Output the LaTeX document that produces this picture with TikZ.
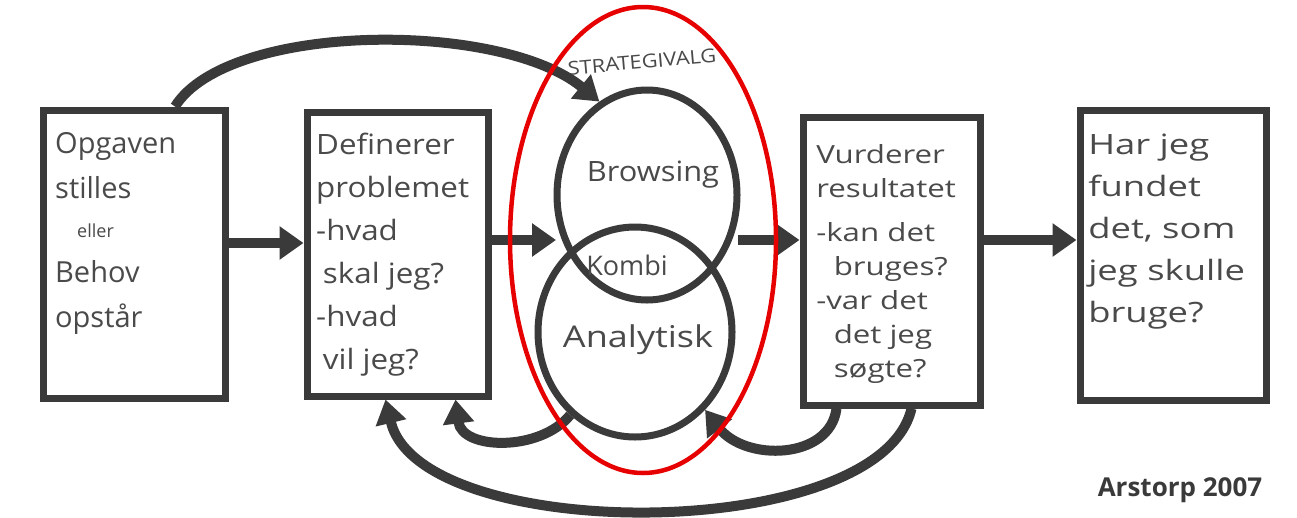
\documentclass[tikz,border=0pt]{standalone}
\usepackage{fontspec}
\setmainfont{Open Sans}
\usetikzlibrary{arrows.meta,shapes.geometric,calc}
\definecolor{ink}{HTML}{3A3A3A}
\definecolor{pen}{HTML}{4A4A4A}
\definecolor{marker}{HTML}{E60000}
\begin{document}
\begin{tikzpicture}[x=1pt,y=-1pt,
  stepbox/.style={draw=ink,line width=7pt,minimum width=#1,inner sep=0pt},
  boxtext/.style={anchor=north west,align=left,text=pen,inner sep=0pt,font=\fontsize{27}{40}\selectfont},
  ring/.style={draw=ink,line width=7pt,ellipse,inner sep=0pt},
  flow/.style={draw=ink,line width=10pt,-{Triangle[length=24pt,width=32pt]}},
  loop/.style={draw=ink,line width=10pt,-{Triangle[length=24pt,width=30pt]}},
]
\useasboundingbox (0,0) rectangle (1297,517);
\fill[white] (0,0) rectangle (1297,517);

% process boxes
\node[stepbox=182pt,minimum height=288pt] (b1) at (134,254) {};
\node[stepbox=181pt,minimum height=284pt] (b2) at (397.5,254) {};
\node[stepbox=177pt,minimum height=288pt] (b3) at (891.5,261) {};
\node[stepbox=186pt,minimum height=290pt] (b4) at (1173,255) {};

% texts inside the boxes
\node[boxtext,font=\fontsize{29}{45}\selectfont] (t1) at (55,132)
  {Opgaven\\stilles\\[-6pt]{\fontsize{18}{20}\selectfont\hspace{22pt}eller}\\Behov\\opstår};
\node[boxtext,xscale=1.12,font=\fontsize{28}{43}\selectfont] (t2) at (316,133)
  {Definerer\\problemet\\-hvad\\\hspace{6pt}skal jeg?\\-hvad\\\hspace{6pt}vil jeg?};
\node[boxtext,xscale=1.25,font=\fontsize{25}{34}\selectfont] (t3) at (816,144)
  {Vurderer\\resultatet\\[10pt]-kan det\\\hspace{14pt}bruges?\\-var det\\\hspace{14pt}det jeg\\\hspace{14pt}søgte?};
\node[boxtext,xscale=1.3,font=\fontsize{28}{42}\selectfont] (t4) at (1088,134)
  {Har jeg\\fundet\\det, som\\jeg skulle\\bruge?};

% strategy circles
\node[ring,minimum width=180pt,minimum height=210pt] (browse) at (647,195) {};
\node[ring,minimum width=194pt,minimum height=210pt] (anal) at (635,332) {};
\node[text=pen,xscale=1.1,font=\fontsize{28}{30}\selectfont] (lb) at (653,175) {Browsing};
\node[text=pen,font=\fontsize{27}{30}\selectfont] (lk) at (627,265) {Kombi};
\node[text=pen,xscale=1.2,font=\fontsize{30}{32}\selectfont] (la) at (638,340) {Analytisk};
\node[text=pen,rotate=5,xscale=1.15,font=\fontsize{19}{20}\selectfont] (sv) at (642,62) {STRATEGIVALG};

\coordinate (kin) at (556,240);
\coordinate (kout) at (738,240);

% forward flow
\draw[flow] ([yshift=11pt]b1.east) -- ([yshift=11pt]b2.west);
\draw[flow] ([yshift=14pt]b2.east) -- (kin);
\draw[flow] (kout) -- ([yshift=21pt]b3.west);
\draw[flow] ([yshift=21pt]b3.east) -- ([yshift=15pt]b4.west);

% top arc into the strategy choice
\draw[loop] ([xshift=41pt]b1.north) .. controls (228,22) and (500,20) .. (browse.117);

% feedback loops
\draw[loop] (anal.232) .. controls (540,452) and (462,450) .. ([xshift=58pt]b2.south);
\draw[loop] ([xshift=-55pt]b3.south) .. controls (830,460) and (745,462) .. (anal.312);
\draw[loop] ([xshift=20pt]b3.south) .. controls (880,545) and (420,545) .. ([xshift=-12pt]b2.south);

% highlight around the strategy choice
\node[draw=marker,line width=4.5pt,ellipse,minimum width=266pt,minimum height=466pt,inner sep=0pt] (hl) at (643,240) {};

% signature
\node[text=ink,font=\bfseries\fontsize{26}{28}\selectfont] (sig) at (1180,490) {Arstorp 2007};
\end{tikzpicture}
\end{document}
